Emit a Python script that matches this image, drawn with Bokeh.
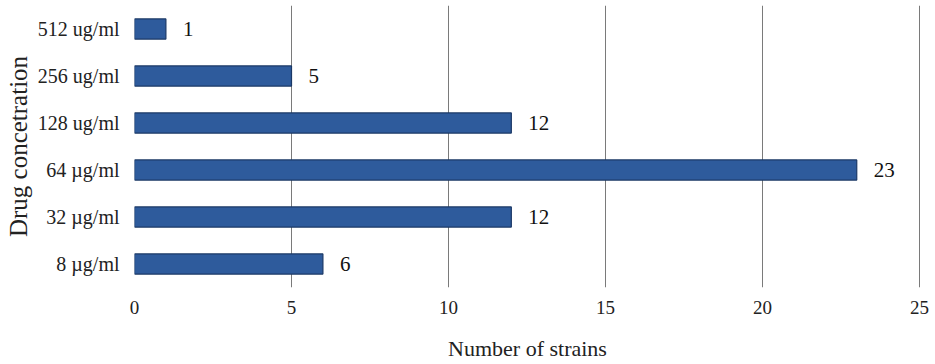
from bokeh.plotting import figure
from bokeh.models import ColumnDataSource, LabelSet, FactorRange, Range1d
from bokeh.embed import file_html
from bokeh.resources import INLINE

categories = ["8 µg/ml", "32 µg/ml", "64 µg/ml", "128 ug/ml", "256 ug/ml", "512 ug/ml"]
counts = [6, 12, 23, 12, 5, 1]
x_ticks = [0, 5, 10, 15, 20, 25]

src = ColumnDataSource(dict(cat=categories, n=counts, lbl=[str(v) for v in counts]))

p = figure(width=930, height=363, output_backend="svg", toolbar_location=None,
           y_range=FactorRange(factors=categories, range_padding=0),
           x_range=Range1d(0, 25.03),
           min_border_left=134, min_border_right=10, min_border_top=5, min_border_bottom=76)
p.outline_line_color = None
p.background_fill_color = "white"

p.hbar(y="cat", right="n", left=0, height=0.43, source=src,
       fill_color="#2E5B9C", line_color="#1A3866", line_width=1.2)

font = "Liberation Serif"
labels = LabelSet(x="n", y="cat", text="lbl", source=src, x_offset=17,
                  text_baseline="middle", text_align="left",
                  text_font=font, text_font_size="21px", text_color="#111111")
p.add_layout(labels)

p.xaxis.ticker = x_ticks
p.xaxis.axis_line_color = None
p.xaxis.major_tick_line_color = None
p.xaxis.minor_tick_line_color = None
p.xaxis.major_tick_out = 0
p.xaxis.major_label_text_font = font
p.xaxis.major_label_text_font_size = "19px"
p.xaxis.major_label_text_color = "#222222"
p.xaxis.major_label_standoff = 13
p.xaxis.axis_label = "Number of strains"
p.xaxis.axis_label_text_font = font
p.xaxis.axis_label_text_font_size = "22px"
p.xaxis.axis_label_text_font_style = "normal"
p.xaxis.axis_label_text_color = "#222222"
p.xaxis.axis_label_standoff = 19

p.yaxis.axis_line_color = None
p.yaxis.major_tick_line_color = None
p.yaxis.minor_tick_line_color = None
p.yaxis.major_tick_out = 0
p.yaxis.major_label_text_font = font
p.yaxis.major_label_text_font_size = "20px"
p.yaxis.major_label_text_color = "#222222"
p.yaxis.major_label_standoff = 15
p.yaxis.axis_label = "Drug concetration"
p.yaxis.axis_label_text_font = font
p.yaxis.axis_label_text_font_size = "25px"
p.yaxis.axis_label_text_font_style = "normal"
p.yaxis.axis_label_text_color = "#222222"
p.yaxis.axis_label_standoff = 3

p.xgrid.ticker = x_ticks[1:]
p.xgrid.grid_line_color = "#7a7a7a"
p.xgrid.grid_line_width = 1
p.ygrid.grid_line_color = None

open("out.html", "w").write(file_html(p, INLINE))
